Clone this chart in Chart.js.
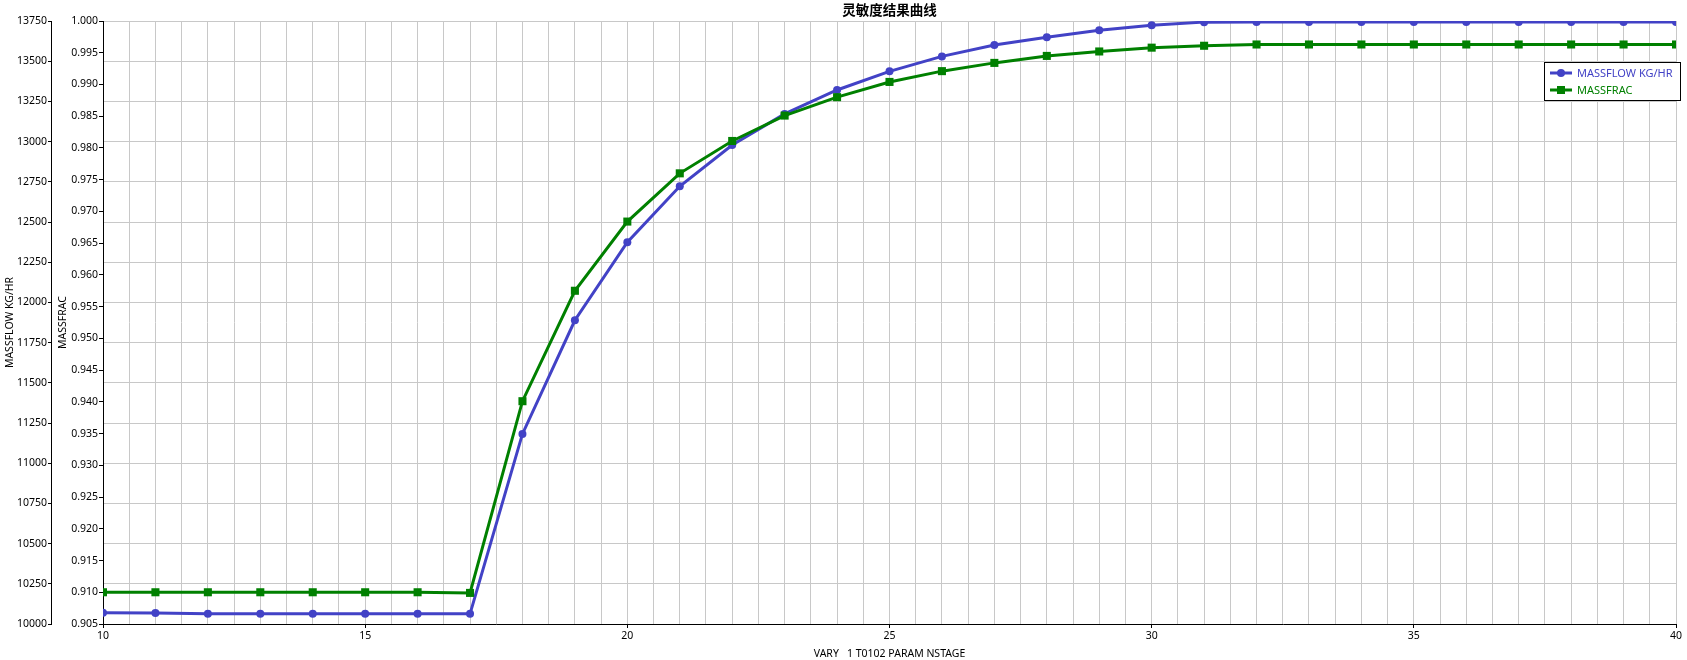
<!DOCTYPE html>
<html>
<head>
<meta charset="utf-8">
<script src="https://cdn.jsdelivr.net/npm/chart.js@4"></script>
<style>
  html, body { margin: 0; padding: 0; background: #fff; }
  #wrap { width: 1687px; height: 660px; }
</style>
</head>
<body>
<div id="wrap"><canvas id="chart"></canvas></div>
<script>
// values
var stages = [10, 11, 12, 13, 14, 15, 16, 17, 18, 19, 20, 21, 22, 23, 24, 25, 26, 27, 28, 29, 30, 31, 32, 33, 34, 35, 36, 37, 38, 39, 40];
var massflow = [10070, 10068, 10063, 10063, 10063, 10063, 10063, 10063, 11182, 11889, 12374, 12722, 12979, 13172, 13321, 13437, 13530, 13601, 13649, 13692, 13724, 13743, 13744, 13744, 13744, 13744, 13744, 13744, 13744, 13744, 13744];
var massfrac = [0.9100, 0.9100, 0.9100, 0.9100, 0.9100, 0.9100, 0.9100, 0.9099, 0.9401, 0.9575, 0.9684, 0.9760, 0.9811, 0.9851, 0.9880, 0.9904, 0.9921, 0.9934, 0.9945, 0.9952, 0.9958, 0.9961, 0.9963, 0.9963, 0.9963, 0.9963, 0.9963, 0.9963, 0.9963, 0.9963, 0.9963];
var seriesNames = ["MASSFLOW KG/HR", "MASSFRAC"];
var chartTitle = "灵敏度结果曲线";
var xTitle = "VARY   1 T0102 PARAM NSTAGE";

var blue = "#4242C6";
var green = "#008000";
var font = { family: "'Noto Sans', 'Open Sans', sans-serif", size: 10.5 };

function toPoints(ys) {
  return stages.map(function (s, i) { return { x: s, y: ys[i] }; });
}

// title + legend box drawn on top
var extras = {
  id: "extras",
  afterDraw: function (chart) {
    var ctx = chart.ctx;
    var ca = chart.chartArea;
    ctx.save();
    ctx.fillStyle = "#000";
    ctx.font = "bold 13.5px 'Noto Sans CJK SC', sans-serif";
    ctx.textAlign = "center";
    ctx.textBaseline = "middle";
    ctx.fillText(chartTitle, (ca.left + ca.right) / 2, 10);

    var bx = ca.right - 132, by = 62, bw = 137, bh = 39;
    ctx.fillStyle = "#fff";
    ctx.fillRect(bx, by, bw, bh);
    ctx.strokeStyle = "#000";
    ctx.lineWidth = 1;
    ctx.strokeRect(bx + 0.5, by + 0.5, bw - 1, bh - 1);

    var rows = [
      { name: seriesNames[0], color: blue, shape: "circle", y: by + 11 },
      { name: seriesNames[1], color: green, shape: "rect", y: by + 28 }
    ];
    rows.forEach(function (r) {
      ctx.strokeStyle = r.color;
      ctx.fillStyle = r.color;
      ctx.lineWidth = 3;
      ctx.beginPath();
      ctx.moveTo(bx + 6, r.y);
      ctx.lineTo(bx + 28, r.y);
      ctx.stroke();
      if (r.shape === "circle") {
        ctx.beginPath();
        ctx.arc(bx + 17, r.y, 4, 0, Math.PI * 2);
        ctx.fill();
      } else {
        ctx.fillRect(bx + 13, r.y - 4, 8, 8);
      }
      ctx.font = "11px " + font.family;
      ctx.textAlign = "left";
      ctx.fillText(r.name, bx + 33, r.y + 0.5);
    });
    ctx.restore();
  }
};

new Chart(document.getElementById("chart"), {
  type: "line",
  data: {
    datasets: [
      {
        label: seriesNames[0],
        data: toPoints(massflow),
        yAxisID: "yFlow",
        borderColor: blue,
        backgroundColor: blue,
        borderWidth: 3,
        pointStyle: "circle",
        pointRadius: 4,
        pointBorderWidth: 0,
        order: 1
      },
      {
        label: seriesNames[1],
        data: toPoints(massfrac),
        yAxisID: "yFrac",
        borderColor: green,
        backgroundColor: green,
        borderWidth: 3,
        pointStyle: "rect",
        pointRadius: 5.7,
        pointBorderWidth: 0,
        order: 0
      }
    ]
  },
  options: {
    responsive: true,
    maintainAspectRatio: false,
    animation: false,
    layout: { padding: { top: 21, right: 11, left: 0, bottom: 0 } },
    plugins: {
      legend: { display: false },
      title: { display: false },
      tooltip: { enabled: false }
    },
    scales: {
      x: {
        type: "linear",
        min: 10,
        max: 40,
        ticks: {
          stepSize: 0.5,
          autoSkip: false,
          maxRotation: 0,
          padding: 2,
          color: "#000",
          font: font,
          callback: function (v) { return v % 5 === 0 ? v : ""; }
        },
        grid: {
          color: "#c8c8c8",
          tickLength: 4,
          tickColor: function (c) { return c.tick && c.tick.value % 5 === 0 ? "#000" : "rgba(0,0,0,0)"; }
        },
        border: { color: "#000", width: 1 },
        title: { display: true, text: xTitle, color: "#000", font: font, padding: { top: 1, bottom: 0 } },
        afterFit: function (s) { s.height = 36; }
      },
      yFlow: {
        type: "linear",
        position: "left",
        weight: 1,
        min: 10000,
        max: 13750,
        ticks: {
          stepSize: 250,
          padding: 1,
          color: "#000",
          font: font,
          callback: function (v) { return String(v); }
        },
        grid: { color: "#c8c8c8", tickColor: "#000", tickLength: 3 },
        border: { color: "#000", width: 1 },
        title: { display: true, text: seriesNames[0], color: "#000", font: font, padding: { top: 4, bottom: 0 } },
        afterFit: function (s) { s.width = 51; }
      },
      yFrac: {
        type: "linear",
        position: "left",
        weight: 0,
        min: 0.905,
        max: 1.0,
        ticks: {
          stepSize: 0.005,
          padding: 1,
          color: "#000",
          font: font,
          callback: function (v) { return v.toFixed(3); }
        },
        grid: { drawOnChartArea: false, tickColor: "#000", tickLength: 4 },
        border: { color: "#000", width: 1 },
        title: { display: true, text: seriesNames[1], color: "#000", font: font, padding: { top: 6, bottom: 0 } },
        afterFit: function (s) { s.width = 52; }
      }
    }
  },
  plugins: [extras]
});
</script>
</body>
</html>
